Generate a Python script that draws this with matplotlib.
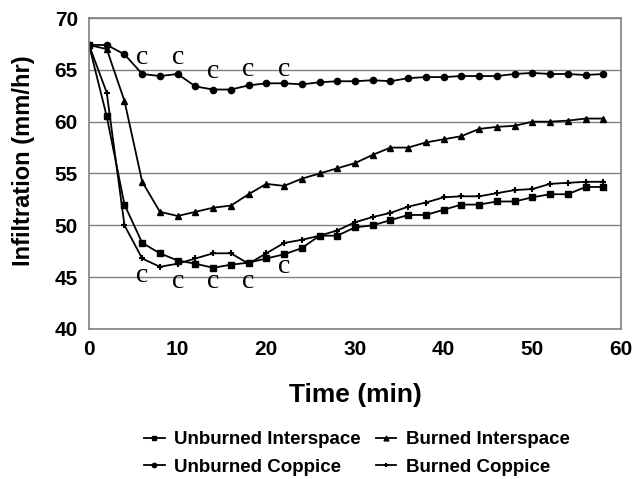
import matplotlib
matplotlib.use('Agg')
import matplotlib.pyplot as plt

time = [0, 2, 4, 6, 8, 10, 12, 14, 16, 18, 20, 22, 24, 26, 28,
        30, 32, 34, 36, 38, 40, 42, 44, 46, 48, 50, 52, 54, 56, 58]

unburned_inter = [67.4, 60.5, 52.0, 48.3, 47.3, 46.6, 46.3, 45.9, 46.2, 46.4,
                  46.8, 47.2, 47.8, 49.0, 49.0, 49.8, 50.0, 50.5, 51.0, 51.0,
                  51.5, 52.0, 52.0, 52.3, 52.3, 52.7, 53.0, 53.0, 53.7, 53.7]
burned_inter = [67.4, 67.0, 62.0, 54.2, 51.3, 50.9, 51.3, 51.7, 51.9, 53.0,
                54.0, 53.8, 54.5, 55.0, 55.5, 56.0, 56.8, 57.5, 57.5, 58.0,
                58.3, 58.6, 59.3, 59.5, 59.6, 60.0, 60.0, 60.1, 60.3, 60.3]
unburned_copp = [67.4, 67.4, 66.5, 64.6, 64.4, 64.6, 63.4, 63.1, 63.1, 63.5,
                 63.7, 63.7, 63.6, 63.8, 63.9, 63.9, 64.0, 63.9, 64.2, 64.3,
                 64.3, 64.4, 64.4, 64.4, 64.6, 64.7, 64.6, 64.6, 64.5, 64.6]
burned_copp = [67.4, 62.8, 50.0, 46.8, 46.0, 46.3, 46.8, 47.3, 47.3, 46.3,
               47.3, 48.3, 48.6, 49.0, 49.5, 50.3, 50.8, 51.2, 51.8, 52.2,
               52.7, 52.8, 52.8, 53.1, 53.4, 53.5, 54.0, 54.1, 54.2, 54.2]

# significance letters
c_top_x = [6, 10, 14, 18, 22]
c_top_y = [66.2, 66.2, 64.8, 65.0, 65.0]
c_bot_x = [6, 10, 14, 18, 22]
c_bot_y = [45.2, 44.6, 44.6, 44.6, 46.0]

fig = plt.figure(figsize=(6.38, 4.79), dpi=100)
ax = fig.add_axes([0.1395, 0.3132, 0.8339, 0.6492])

l1, = ax.plot(time, unburned_inter, color='black', lw=1.3, marker='s', ms=5, label='Unburned Interspace')
l2, = ax.plot(time, burned_inter, color='black', lw=1.3, marker='^', ms=5, label='Burned Interspace')
l3, = ax.plot(time, unburned_copp, color='black', lw=1.3, marker='o', ms=4.5, label='Unburned Coppice')
l4, = ax.plot(time, burned_copp, color='black', lw=1.3, marker='+', ms=5, mew=1.5, label='Burned Coppice')

for x, y in zip(c_top_x + c_bot_x, c_top_y + c_bot_y):
    ax.text(x, y, 'c', fontsize=20, family='Liberation Serif', ha='center', va='center')

ax.set_xlim(0, 60)
ax.set_ylim(40, 70)
ax.set_xticks(range(0, 61, 10))
ax.set_yticks(range(40, 71, 5))
ax.grid(axis='y', color='#808080', lw=1)
ax.set_axisbelow(True)
for s in ax.spines.values():
    s.set_color('#808080')
    s.set_linewidth(1.2)
ax.tick_params(length=0, pad=8, labelsize=15)
for lab in ax.get_xticklabels() + ax.get_yticklabels():
    lab.set_family('Liberation Sans')
    lab.set_fontweight('bold')

ax.set_xlabel('Time (min)', fontsize=19, fontweight='bold', family='Liberation Sans')
ax.set_ylabel('Infiltration (mm/hr)', fontsize=17, fontweight='bold', family='Liberation Sans')
ax.xaxis.set_label_coords(0.5, -0.175)
ax.yaxis.set_label_coords(-0.102, 0.54)

# row-wise order: matplotlib fills columns first
fig.legend([l1, l3, l2, l4], [l.get_label() for l in (l1, l3, l2, l4)],
           loc='lower center', bbox_to_anchor=(0.559, -0.028), ncol=2, frameon=False,
           prop={'family': 'Liberation Sans', 'weight': 'bold', 'size': 13.5},
           handlelength=1.1, columnspacing=0.8, handletextpad=0.5, markerscale=0.7,
           labelspacing=0.55)

fig.savefig('out.png', dpi=100)
